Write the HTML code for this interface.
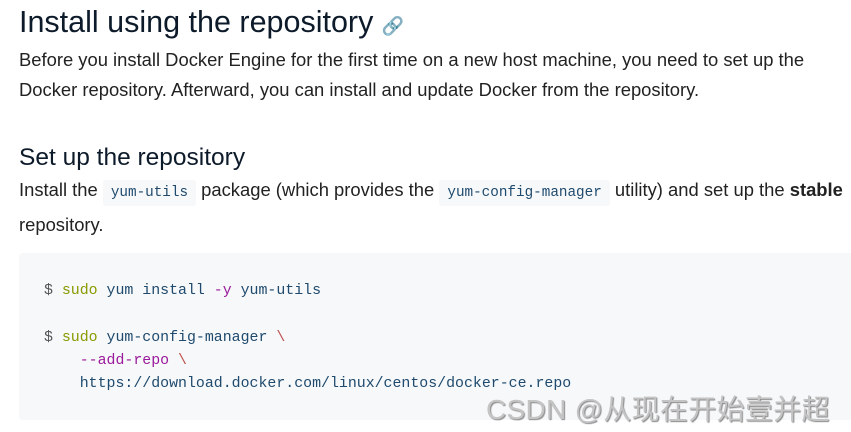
<!DOCTYPE html>
<html><head><meta charset="utf-8"><style>
body{margin:0;width:851px;height:432px;background:#fff;position:relative;overflow:hidden;font-family:"Liberation Sans","Noto Sans CJK SC",sans-serif;color:#1d1d1f}
.a{position:absolute;white-space:nowrap}
.code{font-family:"Liberation Mono",monospace}
.chip{font-family:"Liberation Mono",monospace;font-size:14.3px;background:#f6f8fa;color:#1f4a6d;padding:5px 8px;border-radius:3px}
</style></head><body>
<div class="a" style="left:19px;top:5px;font-size:30.5px;color:#0c1a2a">Install using the repository <span style="font-size:18px;color:#555">&#128279;</span></div>
<div class="a" style="left:19px;top:45px;font-size:18.4px;line-height:30px;color:#222">Before you install Docker Engine for the first time on a new host machine, you need to set up the<br>Docker repository. Afterward, you can install and update Docker from the repository.</div>
<div class="a" style="left:19px;top:144px;font-size:24.5px;color:#0c1a2a">Set up the repository</div>
<div class="a" style="left:19px;top:174px;font-size:18.4px;line-height:32px;color:#222">Install the <span class="chip">yum-utils</span> package (which provides the <span class="chip">yum-config-manager</span> utility) and set up the <b>stable</b><br>repository.</div>
<div class="a" style="left:19px;top:253px;width:840px;height:167px;background:#f6f8fa;border-radius:4px"></div>
<div class="a code" style="left:44px;top:280px;font-size:14.9px;line-height:23.3px;color:#1f4a6d"><span style="color:#555">$</span> <span style="color:#8a9a00">sudo</span> yum install <span style="color:#9b1a9b">-y</span> yum-utils<br><br><span style="color:#555">$</span> <span style="color:#8a9a00">sudo</span> yum-config-manager <span style="color:#c0504d">\</span><br>&nbsp;&nbsp;&nbsp;&nbsp;<span style="color:#9b1a9b">--add-repo</span> <span style="color:#c0504d">\</span><br>&nbsp;&nbsp;&nbsp;&nbsp;https://download.docker.com/linux/centos/docker-ce.repo</div>
<div class="a" style="left:486px;top:388px;font-size:28px;letter-spacing:0.3px;color:#c4c4c4;text-shadow:1px 1px 1px #888">CSDN @从现在开始壹并超</div>
</body></html>
